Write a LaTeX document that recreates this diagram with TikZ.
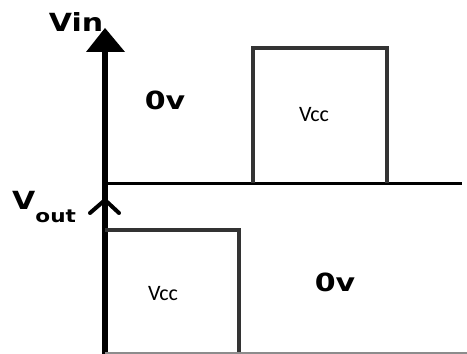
\documentclass[tikz,border=0pt]{standalone}
\usepackage{fontspec}
\newfontfamily\lblfont[FakeStretch=1.2]{DejaVu Sans}
\newfontfamily\valfont{Carlito}
\begin{document}
\begin{tikzpicture}[x=1pt,y=1pt,
  axis/.style={line width=5.5pt,black},
  baseline axis/.style={line width=3.2pt,black},
  pulse/.style={line width=3.2pt,black!80,line join=miter},
  biglbl/.style={inner sep=0pt,anchor=base,font=\lblfont\bfseries\fontsize{25}{27}\selectfont},
  vallbl/.style={inner sep=0pt,anchor=base,font=\valfont\fontsize{22}{24}\selectfont}]
\useasboundingbox (0,0) rectangle (467,354);

% shared time axis and level lines
\coordinate (tip) at (105,326);
\coordinate (headL) at (86,302);
\coordinate (headR) at (125,302);
\coordinate (axbase) at (105,302);
\coordinate (axbot) at (105,0);
\coordinate (zeroL) at (105,170.5);
\coordinate (zeroR) at (462,170.5);

% input waveform: Vin axis with filled arrow head
\fill (tip) -- (headL) -- (headR) -- cycle;
\draw[axis] (axbase) -- (axbot);
\draw[baseline axis] (zeroL) -- (zeroR);

% input pulse
\coordinate (p1a) at (253,170.5);
\coordinate (p1b) at (253,306);
\coordinate (p1c) at (387,306);
\coordinate (p1d) at (387,170.5);
\draw[pulse] (p1a) -- (p1b) -- (p1c) -- (p1d);

% output axis: open chevron head
\coordinate (vtip) at (105,154);
\coordinate (vl) at (90,141);
\coordinate (vr) at (119,141);
\draw[line width=4pt,line cap=round,line join=round] (vl) -- (vtip) -- (vr);

% output pulse (inverted)
\coordinate (p2a) at (105,124);
\coordinate (p2b) at (239,124);
\coordinate (p2c) at (239,0);
\draw[pulse] (p2a) -- (p2b) -- (p2c);
\coordinate (botL) at (105,1.2);
\coordinate (botR) at (467,1.2);
\draw[line width=1.6pt,black!45] (botL) -- (botR);

% labels
\node[biglbl] (vin) at (76,322) {Vin};
\node[inner sep=0pt,anchor=base west] (vout) at (12,144)
  {\lblfont\bfseries\fontsize{25}{27}\selectfont V\raisebox{-13pt}{\fontsize{18}{20}\selectfont out}};
\node[biglbl] (zin) at (165,244) {0v};
\node[biglbl] (zout) at (335,62) {0v};
\node[vallbl] (vccin) at (314,232) {Vcc};
\node[vallbl] (vccout) at (163,53) {Vcc};
\end{tikzpicture}
\end{document}
